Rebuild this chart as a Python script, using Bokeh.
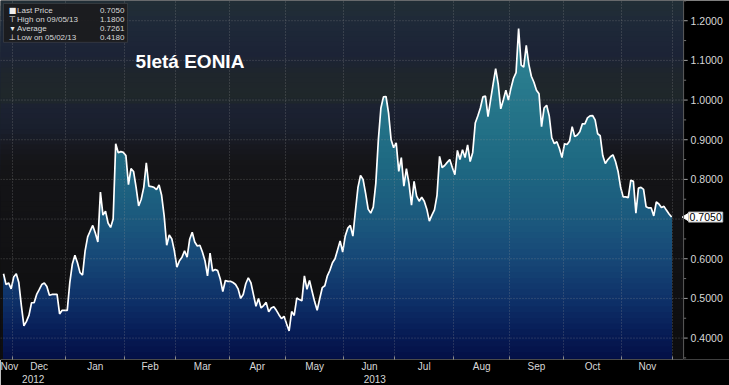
import numpy as np
import pandas as pd
from bokeh.plotting import figure
from bokeh.models import (Range1d, FixedTicker, LinearAxis, BoxAnnotation, Label, Span)
from bokeh.embed import file_html
from bokeh.resources import INLINE

# ---------------- data ----------------
start_date = "2012-11-27"          # first business day shown
values = [
    0.562, 0.535, 0.539, 0.524, 0.554, 0.562, 0.540, 0.482, 0.431, 0.442,
    0.458, 0.489, 0.489, 0.510, 0.522, 0.535, 0.539, 0.530, 0.508, 0.510,
    0.510, 0.510, 0.461, 0.470, 0.470, 0.470, 0.540, 0.587, 0.609, 0.590,
    0.565, 0.559, 0.620, 0.655, 0.670, 0.684, 0.665, 0.642, 0.768, 0.710,
    0.720, 0.690, 0.679, 0.700, 0.890, 0.867, 0.870, 0.868, 0.860, 0.787,
    0.827, 0.820, 0.780, 0.733, 0.750, 0.780, 0.842, 0.783, 0.782, 0.780,
    0.774, 0.786, 0.760, 0.708, 0.634, 0.660, 0.650, 0.620, 0.579, 0.595,
    0.604, 0.620, 0.604, 0.649, 0.667, 0.642, 0.632, 0.634, 0.617, 0.595,
    0.557, 0.614, 0.569, 0.573, 0.570, 0.549, 0.517, 0.545, 0.543, 0.543,
    0.540, 0.535, 0.524, 0.500, 0.510, 0.537, 0.552, 0.540, 0.510, 0.480,
    0.500, 0.476, 0.482, 0.490, 0.466, 0.476, 0.479, 0.470, 0.459, 0.449,
    0.455, 0.436, 0.418, 0.467, 0.457, 0.501, 0.497, 0.494, 0.557, 0.523,
    0.545, 0.518, 0.492, 0.470, 0.499, 0.527, 0.532, 0.557, 0.571, 0.590,
    0.600, 0.622, 0.645, 0.617, 0.657, 0.677, 0.684, 0.657, 0.720, 0.780,
    0.810, 0.800, 0.765, 0.725, 0.715, 0.730, 0.790, 0.900, 0.980, 1.008,
    1.009, 0.967, 0.900, 0.880, 0.892, 0.820, 0.855, 0.783, 0.827, 0.790,
    0.735, 0.795, 0.758, 0.745, 0.755, 0.745, 0.725, 0.695, 0.710, 0.723,
    0.760, 0.858, 0.830, 0.835, 0.843, 0.850, 0.830, 0.812, 0.873, 0.850,
    0.875, 0.855, 0.887, 0.845, 0.868, 0.942, 0.960, 0.980, 1.008, 1.010,
    0.958, 1.000, 1.040, 1.079, 1.040, 0.978, 1.000, 1.025, 1.000, 1.030,
    1.055, 1.069, 1.180, 1.088, 1.083, 1.138, 1.090, 1.060, 1.045, 1.025,
    1.016, 0.933, 0.980, 0.987, 0.960, 0.905, 0.890, 0.895, 0.878, 0.855,
    0.890, 0.888, 0.897, 0.933, 0.908, 0.912, 0.920, 0.940, 0.940, 0.955,
    0.960, 0.961, 0.950, 0.915, 0.910, 0.860, 0.840, 0.850, 0.857, 0.862,
    0.845, 0.820, 0.780, 0.756, 0.756, 0.754, 0.798, 0.795, 0.715, 0.778,
    0.780, 0.775, 0.731, 0.728, 0.728, 0.708, 0.743, 0.738, 0.729, 0.732,
    0.722, 0.713, 0.705,
]
month_labels = ["Nov", "Dec", "Jan", "Feb", "Mar", "Apr", "May", "Jun",
                "Jul", "Aug", "Sep", "Oct", "Nov"]
year_labels = ["2012", "2013"]
y_tick_values = [0.4, 0.5, 0.6, 0.8, 0.9, 1.0, 1.1, 1.2]
y_grid_values = [0.4, 0.5, 0.6, 0.7, 0.8, 0.9, 1.0, 1.1, 1.2]
y_minor_values = [0.35, 0.45, 0.55, 0.65, 0.75, 0.85, 0.95, 1.05, 1.15, 1.25]
title_text = "5letá EONIA"
average_reported = 0.7261

# ---------------- derived ----------------
v = np.array(values, dtype=float)
dates = pd.bdate_range(start_date, periods=len(v))
idx = np.arange(len(v), dtype=float)
periods = dates.to_period("M")
firsts, lasts = [], []
for per in periods.unique():
    pos = np.where(periods == per)[0]
    firsts.append(int(pos[0]))
    lasts.append(int(pos[-1]))
month_mids = [float((a + b) / 2) for a, b in zip(firsts, lasts)]
month_bounds = [float(a - 0.5) for a in firsts[1:]] + [float(len(v) - 0.5)]

# layout of the x scale (business-day index)
x_lo = -1.18
x_axis = len(v) - 1 + 4.7          # right edge of the plotting area / axis line
x_full = len(v) - 1 + 22.7         # right edge of the frame (label column)
y_lo, y_hi = 0.346, 1.251

year_change = month_bounds[1]
year_mids = [float((x_lo + year_change) / 2), float((year_change + x_axis) / 2)]

i_hi = int(np.argmax(v))
i_lo = int(np.argmin(v))


def lerp_color(stops, val):
    ks = [s[0] for s in stops]
    if val >= ks[0]:
        c = stops[0][1]
    elif val <= ks[-1]:
        c = stops[-1][1]
    else:
        for (k0, c0), (k1, c1) in zip(stops[:-1], stops[1:]):
            if k0 >= val >= k1:
                t = (k0 - val) / (k0 - k1)
                c = tuple(c0[j] + (c1[j] - c0[j]) * t for j in range(3))
                break
    return "#%02x%02x%02x" % tuple(int(round(x)) for x in c)


area_stops = [(1.20, (48, 135, 150)), (1.00, (38, 118, 138)), (0.85, (30, 105, 130)),
              (0.70, (27, 88, 125)), (0.60, (22, 70, 118)), (0.50, (14, 48, 104)),
              (0.42, (7, 28, 86)), (0.34, (3, 12, 66))]
bg_stops = [(1.25, (33, 46, 54)), (1.20, (30, 41, 56)), (1.12, (28, 35, 54)),
            (1.07, (31, 38, 44)), (1.01, (31, 39, 42)), (0.99, (28, 34, 50)),
            (0.93, (25, 30, 44)), (0.89, (23, 24, 31)), (0.84, (20, 20, 23)),
            (0.60, (17, 17, 19)), (0.34, (13, 13, 15))]

p = figure(width=729, height=385, x_range=Range1d(x_lo, x_full),
           y_range=Range1d(y_lo, y_hi), y_axis_location=None,
           output_backend="svg", toolbar_location=None,
           min_border_left=0, min_border_top=0, min_border_bottom=0,
           min_border_right=0,
           background_fill_color="#000000", border_fill_color="#000000",
           outline_line_color=None)

# background gradient of the plotting area
for top in np.linspace(y_hi, y_lo + 0.01, 70):
    p.add_layout(BoxAnnotation(top=float(top), right=x_axis,
                               fill_color=lerp_color(bg_stops, top),
                               fill_alpha=1.0, line_color=None, level="underlay"))

# area gradient (painter order: top colour first, each layer down to the bottom)
for hi in np.linspace(1.2, 0.35, 60):
    p.varea(x=idx, y1=y_lo, y2=np.minimum(v, hi), fill_color=lerp_color(area_stops, hi),
            fill_alpha=1.0)

# horizontal grid lines (limited to the plotting area)
gy = np.array(y_grid_values)
p.segment(x0=np.full(len(gy), x_lo), x1=np.full(len(gy), x_axis), y0=gy, y1=gy,
          line_color="#9a9a9a", line_alpha=0.45, line_dash="1 2", line_width=1)

# vertical grid lines at month boundaries
g = p.xgrid[0]
g.ticker = FixedTicker(ticks=month_bounds)
g.grid_line_color = "#9a9a9a"
g.grid_line_alpha = 0.45
g.grid_line_dash = "1 2"
g.level = "guide"
p.ygrid[0].visible = False

p.line(idx, v, line_color="white", line_width=1.7)

# right value axis drawn inside the frame
p.add_layout(Span(location=x_axis, dimension="height", line_color="#5c5c5c", line_width=1))
ty = np.array(y_tick_values)
p.segment(x0=np.full(len(ty), x_axis), x1=np.full(len(ty), x_axis + 1.6), y0=ty, y1=ty,
          line_color="#a0a0a0", line_width=1)
my = np.array(y_minor_values)
p.segment(x0=np.full(len(my), x_axis), x1=np.full(len(my), x_axis + 1.0), y0=my, y1=my,
          line_color="#707070", line_width=1)
for t in y_tick_values:
    p.add_layout(Label(x=x_axis, y=t, x_offset=7, text=f"{t:.4f}", text_color="#d8d8d8",
                       text_font="Liberation Sans", text_font_size="10.5px",
                       text_baseline="middle", text_align="left"))

axis_font = "Liberation Sans"

# month axis
xax = p.xaxis[0]
xax.ticker = FixedTicker(ticks=month_mids, minor_ticks=month_bounds)
xax.major_label_overrides = {m: lab for m, lab in zip(month_mids, month_labels)}
xax.bounds = (x_lo, x_axis)
xax.axis_line_color = "#4a4a4a"
xax.major_tick_line_color = None
xax.major_tick_in = 0
xax.major_tick_out = 0
xax.minor_tick_line_color = "#8a8a8a"
xax.minor_tick_in = 3
xax.minor_tick_out = 0
xax.major_label_text_color = "#d8d8d8"
xax.major_label_text_font = axis_font
xax.major_label_text_font_size = "10px"
xax.major_label_standoff = 1

# year axis
yrax = LinearAxis(ticker=FixedTicker(ticks=year_mids),
                  major_label_overrides={m: lab for m, lab in zip(year_mids, year_labels)})
yrax.axis_line_color = None
yrax.major_tick_line_color = None
yrax.major_tick_in = 0
yrax.major_tick_out = 0
yrax.minor_tick_line_color = None
yrax.major_label_text_color = "#d8d8d8"
yrax.major_label_text_font = axis_font
yrax.major_label_text_font_size = "10px"
yrax.major_label_standoff = 0
p.add_layout(yrax, "below")

# title
p.add_layout(Label(x=51.8, y=1.123, text=title_text, text_color="white",
                   text_font="Liberation Sans", text_font_style="bold",
                   text_font_size="19px", text_baseline="top", text_align="left"))

# statistics box
p.add_layout(BoxAnnotation(left=0.0, right=48.6, top=1.2434, bottom=1.1456,
                           fill_color="#1b1b1d", fill_alpha=0.92,
                           line_color="#6a6a6a", line_width=1, level="annotation"))
legend_rows = [
    ("\u25A0", "Last Price", f"{v[-1]:.4f}"),
    ("\u22A4", f"High on {dates[i_hi].strftime('%m/%d/%y')}", f"{v[i_hi]:.4f}"),
    ("\u25BE", "Average", f"{average_reported:.4f}"),
    ("\u22A5", f"Low on {dates[i_lo].strftime('%m/%d/%y')}", f"{v[i_lo]:.4f}"),
]
row_y = [1.2258, 1.2033, 1.1807, 1.1581]
for (sym, name, val), yy in zip(legend_rows, row_y):
    p.add_layout(Label(x=3.5, y=yy, text=sym, text_color="#eeeeee",
                       text_font="DejaVu Sans", text_font_size="8px",
                       text_baseline="middle", text_align="center"))
    p.add_layout(Label(x=5.3, y=yy, text=name, text_color="#d8d8d8",
                       text_font=axis_font, text_font_size="8px",
                       text_baseline="middle", text_align="left"))
    p.add_layout(Label(x=47.4, y=yy, text=val, text_color="#d8d8d8",
                       text_font=axis_font, text_font_size="8px",
                       text_baseline="middle", text_align="right"))

# last price marker on the value axis
p.scatter(x=[x_axis + 1.0], y=[float(v[-1])], marker="triangle", angle=np.pi / 2,
          size=7, fill_color="white", line_color="white")
p.add_layout(Label(x=x_axis, y=float(v[-1]), x_offset=5, text=f"{v[-1]:.4f}",
                   text_color="black", text_font=axis_font, text_font_size="10.5px",
                   text_baseline="middle", text_align="left",
                   background_fill_color="white", border_line_color="#bbbbbb",
                   padding=1))

open("out.html", "w").write(file_html(p, INLINE))
